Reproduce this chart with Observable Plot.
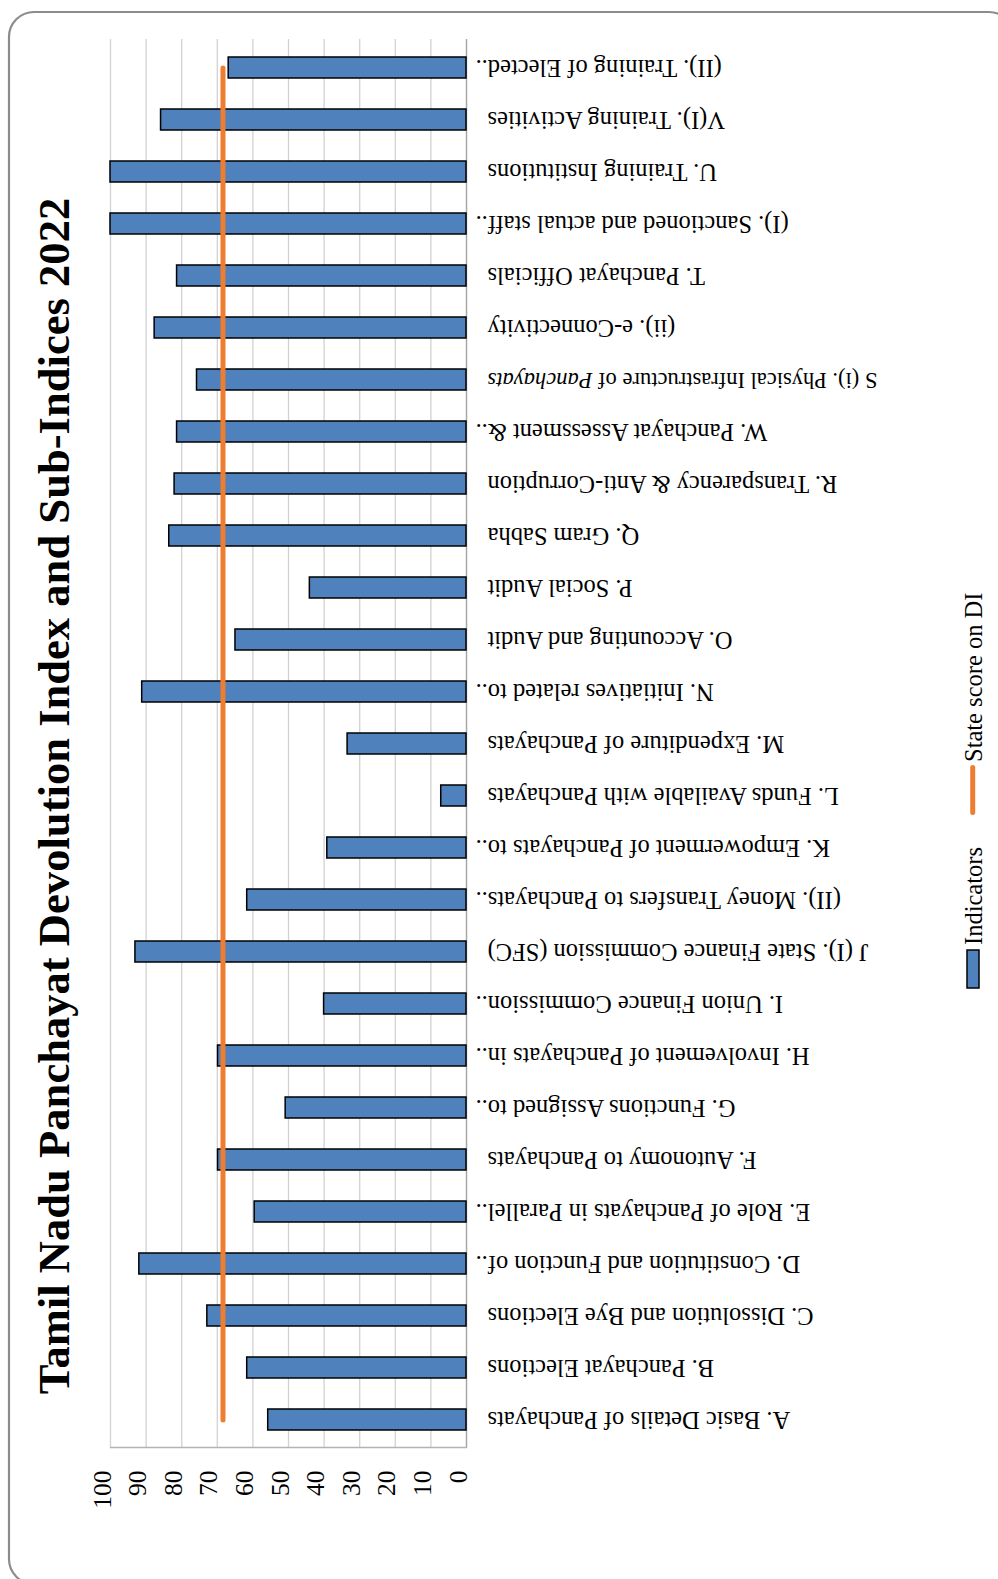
<!DOCTYPE html>
<html>
<head>
<meta charset="utf-8">
<script src="https://cdn.jsdelivr.net/npm/d3@7"></script>
<script src="https://cdn.jsdelivr.net/npm/@observablehq/plot@0.6"></script>
<style>
  html, body { margin: 0; padding: 0; background: #fff; overflow: hidden; }
  #chart svg { display: block; }
</style>
</head>
<body>
<div id="chart"></div>
<script>
// ---- data (bottom to top in the picture) ----
const categories = [
  "A. Basic Details of Panchayats",
  "B. Panchayat Elections",
  "C. Dissolution and Bye Elections",
  "D. Constitution and Function of..",
  "E. Role of Panchayats in Parallel..",
  "F. Autonomy to Panchayats",
  "G. Functions Assigned to..",
  "H. Involvement of Panchayats in..",
  "I. Union Finance Commission..",
  "J (I). State Finance Commission (SFC)",
  "(II). Money Transfers to Panchayats..",
  "K. Empowerment of Panchayats to..",
  "L. Funds Available with Panchayats",
  "M. Expenditure of Panchayats",
  "N. Initiatives related to..",
  "O. Accounting and Audit",
  "P. Social Audit",
  "Q. Gram Sabha",
  "R. Transparency & Anti-Corruption",
  "W. Panchayat Assessment &..",
  "S (i). Physical Infrastructure of Panchayats",
  "(ii). e-Connectivity",
  "T. Panchayat Officials",
  "(I). Sanctioned and actual staff..",
  "U. Training Institutions",
  "V(I). Training Activities",
  "(II). Training of Elected.."
];
const indicatorScores = [
  55.7, 61.6, 72.8, 91.9, 59.5, 69.8, 50.8, 69.8, 40.0, 93.0,
  61.6, 39.1, 7.1, 33.4, 91.1, 64.9, 44.0, 83.5, 82.0, 81.3,
  75.7, 87.6, 81.3, 100, 100, 85.8, 66.8
];
const stateScores = [
  68.4, 68.4, 68.4, 68.4, 68.4, 68.4, 68.4, 68.4, 68.4, 68.4,
  68.4, 68.4, 68.4, 68.4, 68.4, 68.4, 68.4, 68.4, 68.4, 68.4,
  68.4, 68.4, 68.4, 68.4, 68.4, 68.4, 68.4
];
const xTicks = [0, 10, 20, 30, 40, 50, 60, 70, 80, 90, 100];
const chartTitle = "Tamil Nadu Panchayat Devolution Index and Sub-Indices 2022";
const legendLabels = ["Indicators", "State score on DI"];
const italicLabel = { full: "S (i). Physical Infrastructure of Panchayats", plain: "S (i). Physical Infrastructure of ", italic: "Panchayats" };

// ---- build ----
const rows = categories.map((c, i) => ({ category: c, indicator: indicatorScores[i], state: stateScores[i] }));
const font = '"Liberation Serif", "Times New Roman", Times, serif';
const W = 998, H = 1579;
const barColor = "#4f81bd", lineColor = "#ed7d31";
const labelSize = 24.5;

const chart = Plot.plot({
  width: W, height: H,
  marginTop: 39, marginRight: 532, marginBottom: 132, marginLeft: 110,
  style: { fontFamily: font, fontSize: "24px", color: "#000", background: "#fff", overflow: "visible" },
  x: { domain: [0, 100], reverse: true, axis: null },
  y: { domain: categories.slice().reverse(), paddingInner: 0.6, paddingOuter: 0.3, axis: null },
  marks: [
    Plot.gridX(xTicks, { stroke: "#d2d2d2", strokeOpacity: 1, strokeWidth: 1.3 }),
    Plot.frame({ anchor: "bottom", stroke: "#b3b3b3", strokeWidth: 1.3 }),
    Plot.ruleX([0], { stroke: "#a6a6a6", strokeWidth: 1.3 }),
    Plot.barX(rows, { x: "indicator", y: "category", fill: barColor, stroke: "#000", strokeWidth: 1.5 }),
    Plot.line(rows, { x: "state", y: "category", stroke: lineColor, strokeWidth: 5, strokeLinecap: "round" }),
    Plot.text(xTicks, { x: d => d, text: d => String(d), frameAnchor: "bottom", rotate: -90, textAnchor: "end", dy: 23, fontSize: 25.5, fill: "#000" }),
    Plot.text(rows.filter(d => !d.category.endsWith("..")), { y: "category", text: "category", frameAnchor: "right", rotate: 180, textAnchor: "end", dx: 21, fontSize: labelSize, fill: "#000" }),
    Plot.text(rows.filter(d => d.category.endsWith("..")), { y: "category", text: "category", frameAnchor: "right", rotate: 180, textAnchor: "end", dx: 9, fontSize: labelSize, fill: "#000" })
  ]
});

document.getElementById("chart").appendChild(chart);

// italic part of one label (that label is also set a little smaller, as in the source)
chart.querySelectorAll("text").forEach(t => {
  if (t.textContent === italicLabel.full) {
    t.textContent = "";
    t.setAttribute("font-size", 22.5);
    const a = document.createElementNS("http://www.w3.org/2000/svg", "tspan");
    a.textContent = italicLabel.plain;
    const b = document.createElementNS("http://www.w3.org/2000/svg", "tspan");
    b.textContent = italicLabel.italic;
    b.setAttribute("font-style", "italic");
    t.appendChild(a); t.appendChild(b);
  }
});

const svg = d3.select(chart);

// chart area border
const border = { x: 9, y: 12, w: 1005, h: 1572, r: 25 };
svg.append("rect")
  .attr("x", border.x).attr("y", border.y)
  .attr("width", border.w).attr("height", border.h)
  .attr("rx", border.r).attr("ry", border.r)
  .attr("fill", "none").attr("stroke", "#8c8c8c").attr("stroke-width", 2.2);

// title
svg.append("text")
  .attr("transform", `translate(69, ${border.y + border.h / 2 - 2}) rotate(-90)`)
  .attr("text-anchor", "middle")
  .style("font-family", font).style("font-weight", "bold").style("font-size", "44.6px")
  .attr("fill", "#000")
  .text(chartTitle);

// legend
const lg = svg.append("g").style("font-family", font).style("font-size", "24.5px").attr("text-anchor", "start");
lg.append("rect").attr("x", 967).attr("y", 950).attr("width", 12).attr("height", 38)
  .attr("fill", barColor).attr("stroke", "#000").attr("stroke-width", 1.5);
lg.append("text").attr("transform", "translate(982, 945) rotate(-90)").attr("text-anchor", "start").attr("fill", "#000").text(legendLabels[0]);
lg.append("line").attr("x1", 972.7).attr("x2", 972.7).attr("y1", 767.5).attr("y2", 812.5)
  .attr("stroke", lineColor).attr("stroke-width", 5).attr("stroke-linecap", "round");
lg.append("text").attr("transform", "translate(982, 762) rotate(-90)").attr("text-anchor", "start").attr("fill", "#000").text(legendLabels[1]);
</script>
</body>
</html>
